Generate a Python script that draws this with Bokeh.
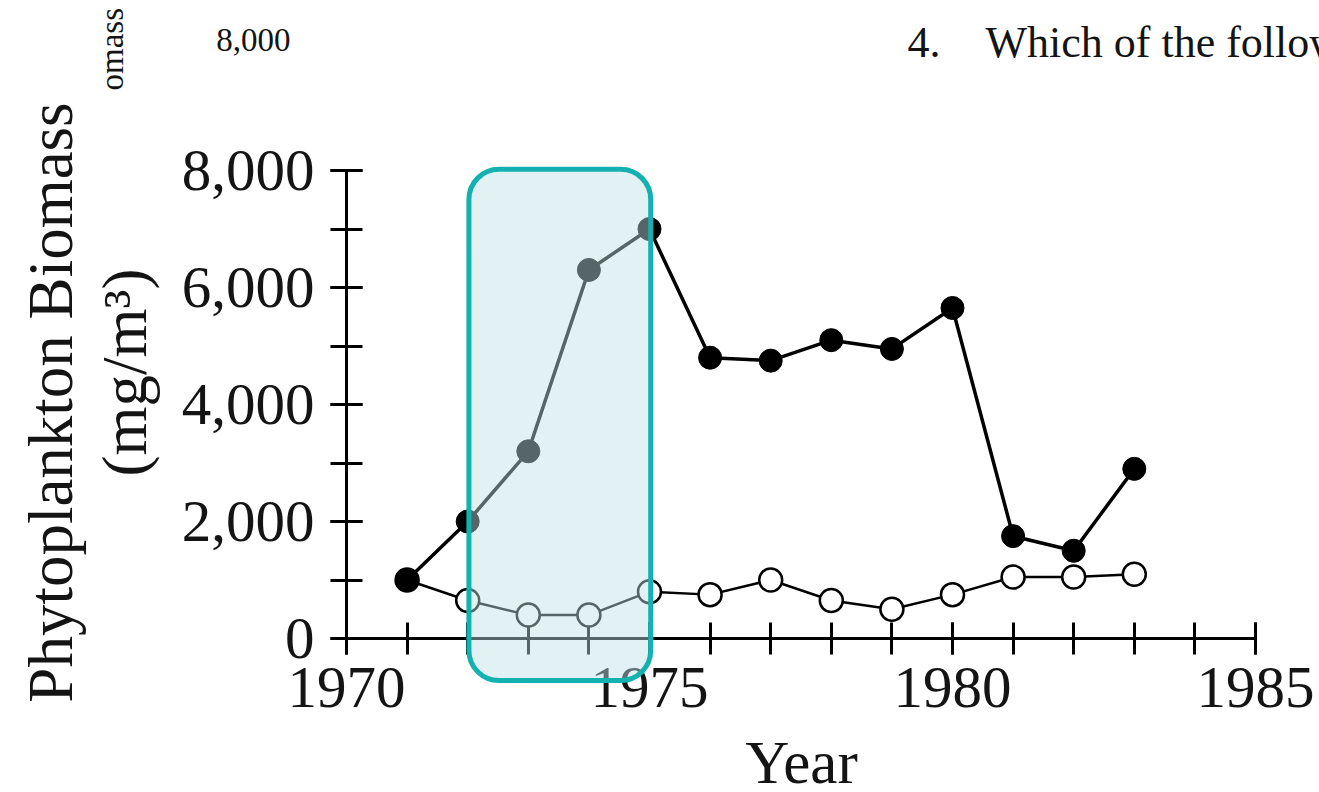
import math
from bokeh.plotting import figure
from bokeh.models import (Range1d, SingleIntervalTicker, NumeralTickFormatter,
                          BoxAnnotation, Label)
from bokeh.embed import file_html
from bokeh.resources import INLINE

# ---------------- data ----------------
years = [1971, 1972, 1973, 1974, 1975, 1976, 1977, 1978, 1979, 1980, 1981, 1982, 1983]
biomass_filled = [1000, 2000, 3200, 6300, 7000, 4800, 4750, 5100, 4950, 5650, 1750, 1500, 2900]
biomass_open = [1000, 650, 400, 400, 800, 750, 1000, 650, 500, 750, 1050, 1050, 1100]
x_axis_bounds = [1970, 1985]
y_axis_bounds = [0, 8000]
highlight_years = [1972, 1975]
y_title = "Phytoplankton Biomass"
y_units = "(mg/m³)"
x_title = "Year"

# ---------------- layout ----------------
W, H = 1319, 792
# pixel calibration of the axes inside the canvas
AX_LEFT, AX_RIGHT = 346, 1255
AX_BOTTOM, AX_TOP = 638, 170

ppx = (AX_RIGHT - AX_LEFT) / (x_axis_bounds[1] - x_axis_bounds[0])
ppy = (AX_BOTTOM - AX_TOP) / (y_axis_bounds[1] - y_axis_bounds[0])
x0 = x_axis_bounds[0] - AX_LEFT / ppx
x1 = x0 + W / ppx
y1 = y_axis_bounds[0] + AX_BOTTOM / ppy
y0 = y1 - H / ppy


def sx(px):
    return px


def sy(py):
    return H - py


FONT = "Liberation Serif"
INK = "#141414"

p = figure(width=W, height=H, output_backend="svg", toolbar_location=None,
           x_range=Range1d(x0, x1), y_range=Range1d(y0, y1),
           min_border=0, min_border_left=0, min_border_right=0,
           min_border_top=0, min_border_bottom=0)
p.outline_line_color = None
p.grid.visible = False
p.background_fill_color = "white"
p.border_fill_color = "white"

# axes at fixed data locations
xa = p.xaxis[0]
ya = p.yaxis[0]
xa.fixed_location = y_axis_bounds[0]
ya.fixed_location = x_axis_bounds[0]
xa.bounds = tuple(x_axis_bounds)
ya.bounds = tuple(y_axis_bounds)
xa.ticker = SingleIntervalTicker(interval=5, num_minor_ticks=5)
ya.ticker = SingleIntervalTicker(interval=2000, num_minor_ticks=2)
xa.formatter = NumeralTickFormatter(format="0")
ya.formatter = NumeralTickFormatter(format="0,0")
for ax in (xa, ya):
    ax.level = "underlay"
    ax.axis_line_width = 3
    ax.axis_line_color = "black"
    ax.major_tick_line_width = 3
    ax.minor_tick_line_width = 3
    ax.major_tick_line_color = "black"
    ax.minor_tick_line_color = "black"
    ax.major_tick_in = 16
    ax.major_tick_out = 16
    ax.minor_tick_in = 16
    ax.minor_tick_out = 16
    ax.major_label_text_font = FONT
    ax.major_label_text_font_size = "59px"
    ax.major_label_text_color = INK
ya.major_label_standoff = 16
xa.major_label_standoff = 13

# series
p.line(years, biomass_open, line_color="black", line_width=2.5)
p.scatter(years, biomass_open, size=23, fill_color="white",
          line_color="black", line_width=2.5)
p.line(years, biomass_filled, line_color="black", line_width=3.5)
p.scatter(years, biomass_filled, size=23, fill_color="black", line_color="black")

# highlight box
box = BoxAnnotation(left=highlight_years[0] + 0.02, right=highlight_years[1] + 0.02,
                    top=y_axis_bounds[1] + 20, bottom=y_axis_bounds[0] - 718,
                    fill_color="#BDE0E7", fill_alpha=0.45,
                    line_color="#13B2B0", line_width=5, line_alpha=1.0,
                    border_radius=30)
p.add_layout(box)


def add_text(text, px, py, size, align="center", angle=0.0):
    p.add_layout(Label(x=sx(px), y=sy(py), x_units="screen", y_units="screen",
                       text=text, angle=angle, text_align=align,
                       text_baseline="middle", text_font=FONT,
                       text_font_size=f"{size}px", text_color=INK))


# titles
add_text(y_title, 50, 402, 63, angle=math.pi / 2)
add_text(y_units, 124, 372, 63, angle=math.pi / 2)
add_text(x_title, 801, 762, 61)

# fragments of the scanned page above the chart
add_text("omass", 111, 90, 33, align="left", angle=math.pi / 2)
add_text("8,000", 290, 39, 33, align="right")
add_text("4.", 907, 42, 44, align="left")
add_text("Which of the follow", 985, 42, 44, align="left")

open("out.html", "w").write(file_html(p, INLINE))
